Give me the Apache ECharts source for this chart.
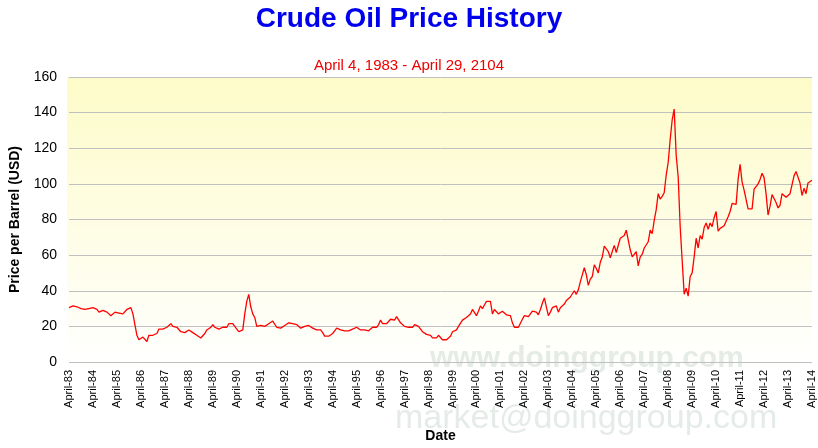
<!DOCTYPE html>
<html><head><meta charset="utf-8">
<script src="https://cdn.jsdelivr.net/npm/echarts@6/dist/echarts.min.js"></script>
<style>html,body{margin:0;padding:0;background:#fff}#c{width:818px;height:448px}</style>
</head><body><div id="c"></div>
<script>
// monthly prices, one array per calendar year (1983 starts in April, 2014 ends in April)
const y1983 = [30.5,31,31.5,31,31,30.5,30,29.5,29.5];
const y1984 = [30,30,30.5,30.5,30,29.5,28,28,29,28.5,28,27.5];
const y1985 = [26,27,28,28,27.5,27,27,28,29.5,30,30.5,27];
const y1986 = [21,15,12.5,13,14,13,11.5,15,15,15,15,16];
const y1987 = [18.5,17.5,18.5,18.5,19.5,20.5,21.5,20,20,19.5,18.5,17];
const y1988 = [17,16.5,17,18,17.5,16.5,16,15,14.5,13.5,14,16];
const y1989 = [18,17.5,19.5,21,19.5,19,18.5,18,19.5,20,19.5,21.5];
const y1990 = [22.5,21.5,20,18.5,17,17,18,27,34,38,31,27];
const y1991 = [25,20,19.5,20.5,21,20,21,21.5,22,23,22,19.5];
const y1992 = [18.5,19,19,20.5,21.5,22,21.5,21.5,21.5,21,20,19];
const y1993 = [19.5,20,20.5,20.5,20,19,18,18,17.5,18,16.5,14.5];
const y1994 = [15,14.5,14.5,16,17.5,19,19.5,18,17.5,17.5,18,17.5];
const y1995 = [18,18.5,18.5,19.5,19,18,17.5,18,17.5,17.5,18,19.5];
const y1996 = [18.5,19.5,21,23.5,21.5,20.5,21.5,22,24,25,23.5,25.5];
const y1997 = [25,22,21,20,21,19.5,20,19.5,21,21.5,20,18.5];
const y1998 = [17,16,15.5,15.5,15,13.5,14,13.5,15,14.5,12.5,11.5];
const y1999 = [12.5,12,14.5,17,18,18,20,21,23.5,22.5,25,26];
const y2000 = [27,29.5,30,26,28.5,31.5,30,32,34,33,34,27];
const y2001 = [29.5,29.5,27,27.5,28.5,27.5,26.5,27.5,26,22,19.5,19.5];
const y2002 = [19.5,20.5,24,26,27,25.5,27,28.5,29.5,28,26.5,29.5];
const y2003 = [33,36,31,26,28,30.5,30.5,31.5,28,30.5,31,32.5];
const y2004 = [34.5,34.5,36.5,36.5,40,38,40.5,45,46,53,49,43];
const y2005 = [46.5,48,54.5,52.5,50,56,59,65,65,62,58.5,59.5];
const y2006 = [65.5,61.5,62.5,69.5,70.5,71,74,73,63,59,59,62];
const y2007 = [54,59,60.5,64,63.5,67.5,74,72,79.5,85.5,94.5,91.5];
const y2008 = [93,95,105,112,125,136,142,116,104,76,57,38];
const y2009 = [41.5,37,48,50,59,69.5,64,71,69,75.5,78,74.5];
const y2010 = [78,76,81,84.5,73.5,75,76,76.5,75.5,81.5,84.5,89];
const y2011 = [89.5,88.5,102.5,111,101,96.5,97,86,85.5,86,97,98.5];
const y2012 = [100,102.5,106,103.5,94.5,82.5,87.5,94,94.5,89.5,86.5,88];
const y2013 = [94.5,95.5,92.5,92,94.5,95.5,104.5,107,106.5,100.5,93.5,97.5];
const y2014 = [94.5,100.5,100.5,102];

const prices = [].concat(y1983,y1984,y1985,y1986,y1987,y1988,y1989,y1990,y1991,y1992,
  y1993,y1994,y1995,y1996,y1997,y1998,y1999,y2000,y2001,y2002,y2003,y2004,y2005,
  y2006,y2007,y2008,y2009,y2010,y2011,y2012,y2013,y2014);

const monthNames = ['January','February','March','April','May','June','July','August','September','October','November','December'];
const months = prices.map((p, i) => {
  let m = (i + 3) % 12, yr = 1983 + Math.floor((i + 3) / 12);
  return monthNames[m] + '-' + String(yr).slice(2);
});

const chart = echarts.init(document.getElementById('c'));
chart.setOption({
  animation: false,
  title: [
    { text: 'Crude Oil Price History', left: 'center', top: 0,
      textStyle: { color: '#0000ee', fontSize: 28, fontWeight: 'bold', fontFamily: 'Liberation Sans' } },
    { text: 'April 4, 1983 - April 29, 2104', left: 'center', top: 53,
      textStyle: { color: '#ee0000', fontSize: 15, fontWeight: 'normal', fontFamily: 'Liberation Sans' } }
  ],
  graphic: [
    { type: 'rect', shape: { x: 67, y: 77, width: 745, height: 290 }, z: -10,
      style: { fill: new echarts.graphic.LinearGradient(0, 0, 0, 1, [
        { offset: 0, color: '#fdfbc8' }, { offset: 1, color: '#ffffff' }]) } },
    { type: 'text', left: 430, top: 344, z: -5,
      style: { text: 'www.doinggroup.com', fill: 'rgba(150,175,160,0.25)', font: 'bold 30px Liberation Sans' } },
    { type: 'text', left: 395, top: 402, z: -5,
      style: { text: 'market@doinggroup.com', fill: 'rgba(150,175,160,0.25)', font: '34px Liberation Sans' } }
  ],
  grid: { left: 67, right: 6, top: 77, bottom: 81 },
  xAxis: {
    type: 'category', data: months, boundaryGap: false,
    name: 'Date', nameLocation: 'middle', nameGap: 67,
    nameTextStyle: { fontSize: 14, fontWeight: 'bold', color: '#000', fontFamily: 'Liberation Sans' },
    axisLine: { show: false }, axisTick: { show: false },
    axisLabel: { interval: 11, rotate: 90, color: '#000', fontSize: 11, fontFamily: 'Liberation Sans' }
  },
  yAxis: {
    type: 'value', min: 0, max: 160, interval: 20,
    name: 'Price per Barrel (USD)', nameLocation: 'middle', nameGap: 47,
    nameTextStyle: { fontSize: 14, fontWeight: 'bold', color: '#000', fontFamily: 'Liberation Sans' },
    axisLine: { show: false }, axisTick: { show: false },
    axisLabel: { color: '#000', fontSize: 14, fontFamily: 'Liberation Sans', margin: 12 },
    splitLine: { lineStyle: { color: '#c0c0c0' } }
  },
  series: [{
    type: 'line', data: prices, showSymbol: false,
    lineStyle: { color: '#ff0000', width: 1.3 }
  }]
});
</script></body></html>
